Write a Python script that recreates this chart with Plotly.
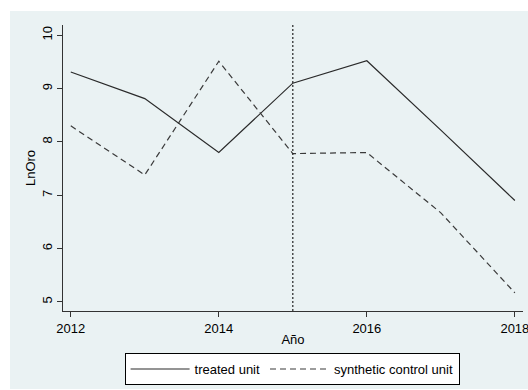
import plotly.graph_objects as go

years = [2012, 2013, 2014, 2015, 2016, 2017, 2018]
treated = [9.31, 8.81, 7.80, 9.10, 9.52, 8.22, 6.90]
synthetic = [8.30, 7.38, 9.51, 7.78, 7.80, 6.67, 5.17]
treatment_year = 2015
x_ticks = [2012, 2014, 2016, 2018]
y_ticks = [5, 6, 7, 8, 9, 10]

W, H = 528, 390
ML, MR, MT, MB = 63, 5, 25, 79
BG = "#EAF2F3"
FONT = "Liberation Sans, Arial, sans-serif"

fig = go.Figure()
fig.add_trace(go.Scatter(x=years, y=treated, mode="lines", name="treated unit",
                         line=dict(color="#2a2a2a", width=1.2)))
fig.add_trace(go.Scatter(x=years, y=synthetic, mode="lines", name="synthetic control unit",
                         line=dict(color="#3a3a3a", width=1.2, dash="6px,4px")))

fig.add_shape(type="rect", xref="paper", yref="paper",
              x0=-(ML - 10) / (W - ML - MR), x1=1 + MR / (W - ML - MR),
              y0=-(MB - 1) / (H - MT - MB), y1=1 + (MT - 11) / (H - MT - MB),
              fillcolor=BG, line=dict(width=0), layer="below")
fig.add_shape(type="line", xref="x", yref="paper", x0=treatment_year, x1=treatment_year,
              y0=0, y1=1, line=dict(color="#222222", width=1.2, dash="2px,2px"))

fig.update_layout(
    width=W, height=H,
    margin=dict(l=ML, r=MR, t=MT, b=MB, autoexpand=False),
    paper_bgcolor="white", plot_bgcolor="white",
    font=dict(family=FONT, size=13, color="#000000"),
    showlegend=True,
    legend=dict(orientation="h", x=0.498, xanchor="center", y=-0.147, yanchor="top",
                bgcolor="white", bordercolor="#000000", borderwidth=1,
                font=dict(size=13), itemwidth=59, tracegroupgap=0),
    xaxis=dict(range=[2011.895, 2018.11], tickvals=x_ticks, ticks="outside", ticklen=5,
               tickcolor="#333333", showline=True, linecolor="#333333", linewidth=1,
               showgrid=False, zeroline=False, ticklabeloverflow="allow", automargin=False,
               title=dict(text="Año", standoff=0, font=dict(size=13))),
    yaxis=dict(range=[4.83, 10.19], tickvals=y_ticks, ticks="outside", ticklen=5,
               tickcolor="#333333", showline=True, linecolor="#333333", linewidth=1,
               showgrid=True, gridcolor=BG, gridwidth=1, zeroline=False, tickangle=-90,
               automargin=False,
               title=dict(text="LnOro", standoff=1, font=dict(size=13))),
)

fig.write_html("out.html")
